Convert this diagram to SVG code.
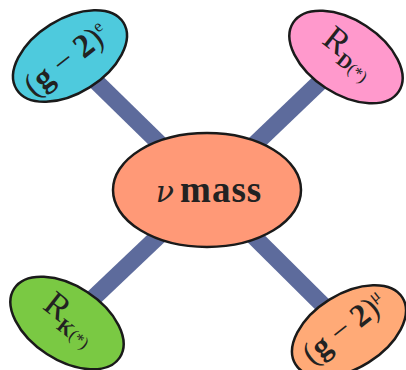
<svg xmlns="http://www.w3.org/2000/svg" width="406" height="370" viewBox="0 0 406 370">
<style>
.node{stroke:#1a1a1a;stroke-width:2.5}
.bar{stroke:#5d6b9c;stroke-width:17;stroke-linecap:butt}
.t{font-family:"Liberation Serif","DejaVu Serif",serif;fill:#222222}
.b{font-weight:bold}
</style>
<rect width="406" height="370" fill="#ffffff"/>
<g id="connectors">
<line class="bar" x1="70" y1="56" x2="207" y2="190"/>
<line class="bar" x1="346" y1="57" x2="207" y2="190"/>
<line class="bar" x1="67" y1="323" x2="207" y2="190"/>
<line class="bar" x1="349" y1="331" x2="207" y2="190"/>
</g>
<g id="center">
<ellipse class="node" cx="207" cy="190" rx="94" ry="57" fill="#ff9977"/>
<text class="t" x="209" y="202" font-size="37" text-anchor="middle"><tspan font-family="DejaVu Serif,serif" font-style="italic" font-size="30">ν</tspan><tspan class="b" dx="6" letter-spacing="1">mass</tspan></text>
</g>
<g id="ge" transform="translate(70,56) rotate(-32)">
<ellipse class="node" cx="0" cy="0" rx="63" ry="37" fill="#4ecadd"/>
<g transform="rotate(-6)">
<text class="t" x="-5" y="11" font-size="33" text-anchor="middle">(<tspan class="b">g</tspan> − <tspan class="b">2</tspan>)<tspan font-size="17" dy="-12">e</tspan></text>
</g>
</g>
<g id="rd" transform="translate(346,57) rotate(33)">
<ellipse class="node" cx="0" cy="0" rx="63" ry="37" fill="#ff99cc"/>
<g transform="rotate(5)">
<text class="t" x="0" y="4" font-size="35" text-anchor="middle">R<tspan class="b" font-size="20" dy="7">D</tspan><tspan font-size="17">(*)</tspan></text>
</g>
</g>
<g id="rk" transform="translate(67,323) rotate(33)">
<ellipse class="node" cx="0" cy="0" rx="63" ry="37" fill="#7ac943"/>
<g transform="rotate(5)">
<text class="t" x="0" y="4" font-size="35" text-anchor="middle">R<tspan class="b" font-size="20" dy="7">K</tspan><tspan font-size="17">(*)</tspan></text>
</g>
</g>
<g id="gmu" transform="translate(349,331) rotate(-32)">
<ellipse class="node" cx="0" cy="0" rx="63" ry="37" fill="#ffaa77"/>
<g transform="rotate(-6)">
<text class="t" x="-2" y="5" font-size="32" text-anchor="middle">(<tspan class="b">g</tspan> − <tspan class="b">2</tspan>)<tspan font-size="17" dy="-12">μ</tspan></text>
</g>
</g>
</svg>
